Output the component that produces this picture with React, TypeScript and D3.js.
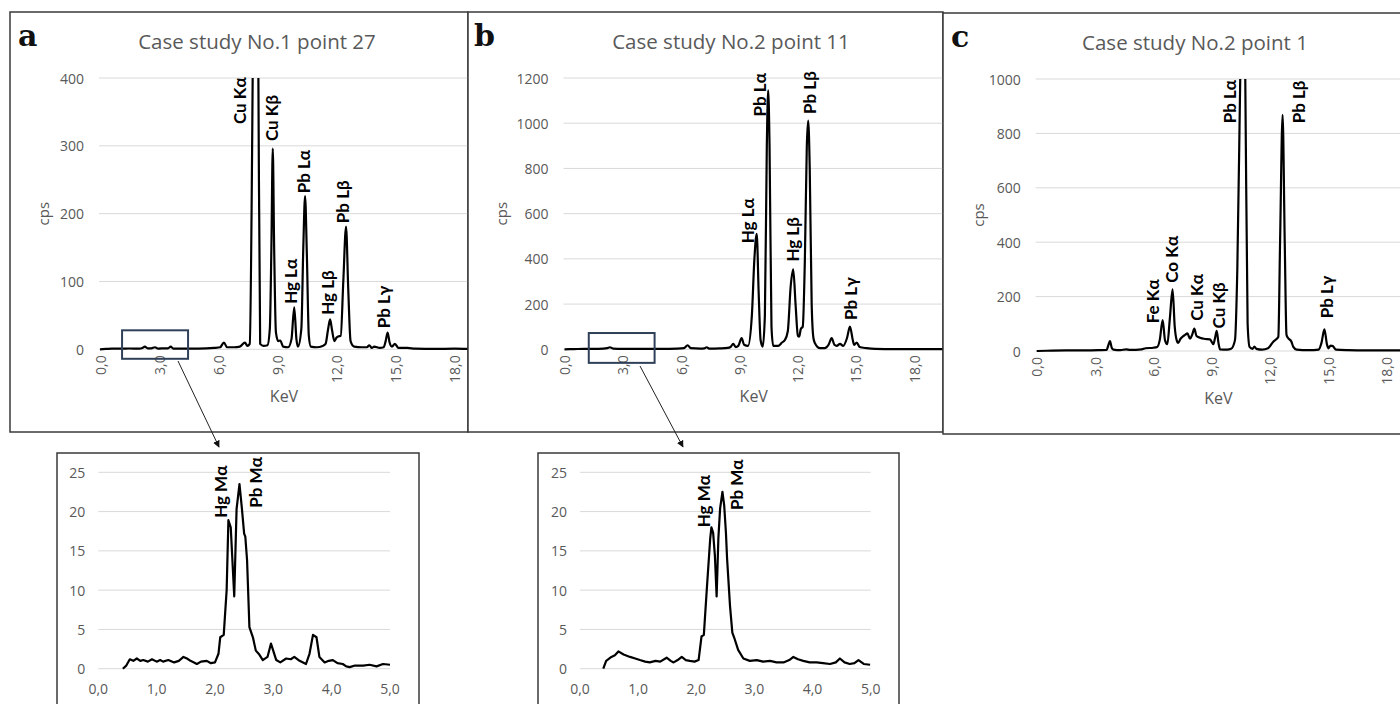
import React from 'react';
import * as d3 from 'd3';

type Pt = [number, number];

// spectra: [keV, cps]
const spectrumA: Pt[] = [
  [0, 0], [0.3, 0.5], [0.6, 1], [1.0, 1], [1.5, 1.2], [2.0, 1], [2.15, 2], [2.28, 4], [2.42, 1.5],
  [2.6, 1.5], [2.79, 3], [2.95, 1], [3.3, 1.5], [3.45, 1.5], [3.59, 4], [3.72, 1], [4.2, 1], [5.0, 1],
  [5.8, 2], [6.1, 3], [6.29, 10], [6.45, 3], [6.8, 3], [7.1, 4], [7.36, 10], [7.48, 5], [7.6, 8],
  [7.75, 400], [7.9, 1100], [8.04, 400], [8.13, 8], [8.3, 5], [8.5, 6], [8.62, 30], [8.7, 150],
  [8.77, 296], [8.84, 150], [8.93, 25], [9.05, 12], [9.15, 13], [9.3, 4], [9.55, 3], [9.72, 15],
  [9.86, 62], [9.97, 15], [10.05, 4], [10.22, 30], [10.32, 150], [10.41, 226], [10.5, 140],
  [10.6, 20], [10.7, 4], [11.0, 3], [11.3, 5], [11.45, 8], [11.58, 30], [11.68, 44], [11.78, 28],
  [11.9, 12], [12.0, 17], [12.1, 19], [12.22, 20], [12.35, 100], [12.49, 181], [12.6, 90],
  [12.72, 12], [12.9, 4], [13.3, 3], [13.55, 3], [13.67, 6], [13.8, 2], [13.92, 4], [14.2, 2],
  [14.4, 3], [14.5, 12], [14.6, 24.5], [14.7, 10], [14.82, 4], [14.97, 8], [15.15, 2], [15.6, 2],
  [16.0, 1], [17.0, 0.5], [18.0, 1], [18.7, 0.5],
];

const spectrumB: Pt[] = [
  [0, 0], [0.5, 1], [1.0, 2], [1.5, 2], [2.0, 3], [2.2, 5], [2.34, 9], [2.5, 3], [3.0, 2], [4.0, 2],
  [5.0, 2], [5.8, 3], [6.15, 5], [6.34, 18], [6.5, 5], [7.0, 3], [7.2, 4], [7.32, 9], [7.45, 3],
  [8.0, 4], [8.4, 6], [8.55, 10], [8.69, 24], [8.82, 10], [8.95, 15], [9.12, 49], [9.25, 20],
  [9.45, 15], [9.65, 150], [9.78, 400], [9.9, 511], [10.0, 250], [10.1, 40], [10.21, 12],
  [10.32, 150], [10.42, 900], [10.49, 1145], [10.56, 900], [10.66, 100], [10.75, 15], [11.0, 15],
  [11.2, 30], [11.35, 41], [11.5, 80], [11.65, 280], [11.78, 354], [11.9, 200], [12.02, 60],
  [12.09, 56], [12.17, 90], [12.27, 100], [12.38, 400], [12.48, 900], [12.55, 1012], [12.63, 800],
  [12.73, 200], [12.82, 50], [12.9, 27], [13.16, 5], [13.4, 5], [13.6, 20], [13.76, 49], [13.9, 20],
  [14.02, 15], [14.19, 24], [14.35, 15], [14.55, 50], [14.7, 100], [14.85, 40], [14.92, 20],
  [15.05, 30], [15.2, 10], [15.56, 5], [16.0, 2], [17.0, 1], [18.0, 1], [19.5, 1],
];

const spectrumC: Pt[] = [
  [0, 0], [0.5, 1], [1.5, 2], [2.5, 2], [3.2, 3], [3.6, 4], [3.68, 20], [3.77, 36], [3.86, 12],
  [3.95, 5], [4.3, 3], [4.6, 6], [4.8, 4], [5.4, 6], [5.6, 10], [6.0, 12], [6.2, 15], [6.33, 40],
  [6.48, 114], [6.6, 40], [6.72, 25], [6.85, 120], [6.99, 227], [7.1, 90], [7.2, 40], [7.28, 30],
  [7.4, 45], [7.54, 55], [7.65, 60], [7.75, 65], [7.89, 45], [8.0, 60], [8.11, 82], [8.22, 55],
  [8.4, 49], [8.6, 45], [8.91, 43], [9.09, 25], [9.18, 50], [9.26, 74], [9.35, 30], [9.43, 6],
  [9.8, 5], [10.0, 8], [10.2, 40], [10.32, 300], [10.47, 1000], [10.6, 1600], [10.73, 1000],
  [10.85, 100], [10.95, 15], [11.1, 8], [11.2, 16], [11.3, 8], [11.6, 5], [11.9, 10], [12.17, 34],
  [12.35, 45], [12.43, 52], [12.52, 400], [12.65, 868], [12.76, 400], [12.85, 60], [12.93, 48],
  [13.1, 35], [13.2, 15], [13.37, 5], [14.0, 3], [14.5, 5], [14.65, 30], [14.8, 80], [14.93, 25],
  [15.0, 10], [15.12, 20], [15.23, 18], [15.4, 5], [16.0, 3], [17.0, 2], [18.7, 2],
];

const insetA: Pt[] = [
  [0.42, 0], [0.48, 0.4], [0.54, 1.2], [0.6, 1.0], [0.66, 1.3], [0.72, 1.0], [0.77, 1.1], [0.85, 0.9],
  [0.92, 1.2], [1.0, 0.9], [1.06, 1.1], [1.11, 0.9], [1.2, 1.1], [1.3, 0.8], [1.38, 1.0], [1.46, 1.5],
  [1.52, 1.3], [1.58, 1.0], [1.64, 0.8], [1.69, 0.6], [1.76, 0.9], [1.86, 1.0], [1.93, 0.7],
  [2.0, 0.8], [2.06, 1.9], [2.09, 4.0], [2.15, 4.3], [2.2, 10], [2.23, 18.9], [2.27, 18], [2.33, 9.2],
  [2.37, 20.3], [2.42, 23.5], [2.46, 20.5], [2.5, 17.2], [2.52, 16.8], [2.55, 13.8], [2.59, 5.3],
  [2.65, 4.0], [2.7, 2.3], [2.76, 1.8], [2.82, 1.1], [2.9, 1.5], [2.96, 3.2], [3.05, 1.1], [3.12, 0.8],
  [3.22, 1.3], [3.3, 1.2], [3.36, 1.5], [3.45, 1.0], [3.56, 0.6], [3.62, 1.9], [3.68, 4.3], [3.74, 4.0],
  [3.79, 1.5], [3.88, 0.8], [3.95, 1.0], [4.02, 1.1], [4.1, 0.7], [4.19, 0.6], [4.25, 0.3], [4.31, 0.2],
  [4.4, 0.4], [4.54, 0.4], [4.65, 0.5], [4.77, 0.3], [4.88, 0.6], [5.0, 0.5],
];

const insetB: Pt[] = [
  [0.4, 0], [0.45, 1.0], [0.54, 1.5], [0.6, 1.7], [0.66, 2.2], [0.75, 1.8], [0.86, 1.5], [0.95, 1.3],
  [1.03, 1.1], [1.12, 0.9], [1.2, 0.8], [1.3, 1.0], [1.38, 0.9], [1.49, 1.4], [1.56, 1.0], [1.61, 0.8],
  [1.68, 1.1], [1.75, 1.5], [1.82, 1.1], [1.89, 1.0], [1.97, 0.9], [2.04, 1.1], [2.09, 4.1],
  [2.13, 4.3], [2.18, 10], [2.24, 16.6], [2.26, 18], [2.29, 17.3], [2.32, 14.4], [2.35, 9.2],
  [2.38, 16.6], [2.41, 20.4], [2.45, 22.5], [2.48, 20.8], [2.51, 17.3], [2.53, 14], [2.58, 8],
  [2.62, 4.6], [2.65, 4.0], [2.72, 2.4], [2.81, 1.3], [2.92, 1.0], [3.04, 1.1], [3.15, 0.9],
  [3.27, 1.0], [3.38, 0.8], [3.5, 0.8], [3.6, 1.1], [3.67, 1.5], [3.75, 1.2], [3.84, 1.0], [3.95, 0.8],
  [4.07, 0.8], [4.18, 0.7], [4.3, 0.6], [4.4, 0.8], [4.47, 1.3], [4.55, 0.8], [4.64, 0.6], [4.72, 0.7],
  [4.79, 1.1], [4.88, 0.6], [4.99, 0.5],
];

type PeakLabel = { text: string; kev: number; cps: number };

const labelsA: PeakLabel[] = [
  { text: 'Cu Kα', kev: 7.07, cps: 332 },
  { text: 'Cu Kβ', kev: 8.72, cps: 307 },
  { text: 'Hg Lα', kev: 9.68, cps: 67 },
  { text: 'Pb Lα', kev: 10.32, cps: 230 },
  { text: 'Hg Lβ', kev: 11.54, cps: 51 },
  { text: 'Pb Lβ', kev: 12.32, cps: 186 },
  { text: 'Pb Lγ', kev: 14.38, cps: 31 },
];

const labelsB: PeakLabel[] = [
  { text: 'Hg Lα', kev: 9.41, cps: 469 },
  { text: 'Pb Lα', kev: 10.05, cps: 1030 },
  { text: 'Hg Lβ', kev: 11.73, cps: 388 },
  { text: 'Pb Lβ', kev: 12.63, cps: 1041 },
  { text: 'Pb Lγ', kev: 14.74, cps: 130 },
];

const labelsC: PeakLabel[] = [
  { text: 'Fe Kα', kev: 5.97, cps: 102 },
  { text: 'Co Kα', kev: 6.94, cps: 251 },
  { text: 'Cu Kα', kev: 8.23, cps: 111 },
  { text: 'Cu Kβ', kev: 9.34, cps: 83 },
  { text: 'Pb Lα', kev: 9.91, cps: 837 },
  { text: 'Pb Lβ', kev: 13.46, cps: 837 },
  { text: 'Pb Lγ', kev: 14.92, cps: 120 },
];

const insetLabelsA: PeakLabel[] = [
  { text: 'Hg Mα', kev: 2.09, cps: 19.2 },
  { text: 'Pb Mα', kev: 2.69, cps: 20.5 },
];
const insetLabelsB: PeakLabel[] = [
  { text: 'Hg Mα', kev: 2.13, cps: 18.0 },
  { text: 'Pb Mα', kev: 2.7, cps: 20.2 },
];

const mainXTicks = [0, 3, 6, 9, 12, 15, 18];
const insetXTicks = [0, 1, 2, 3, 4, 5];
const yTicksA = [0, 100, 200, 300, 400];
const yTicksB = [0, 200, 400, 600, 800, 1000, 1200];
const yTicksC = [0, 200, 400, 600, 800, 1000];
const insetYTicks = [0, 5, 10, 15, 20, 25];

const fmt = (v: number) => v.toFixed(1).replace('.', ',');

const GREY = '#595959';
const GRID = '#d9d9d9';
const FONT = '"Open Sans", "Noto Sans", sans-serif';
const LABEL_FONT = 'Lato, "Open Sans", sans-serif';

type PanelProps = {
  id: string;
  letter: string;
  title: string;
  frame: { x: number; y: number; w: number; h: number };
  xRange: [number, number];
  rightEdge: number;
  yRange: [number, number];
  yMax: number;
  yTicks: number[];
  data: Pt[];
  labels: PeakLabel[];
  titleX: number;
  letterX: number;
  cpsX: number;
  box?: { k0: number; k1: number; c0: number; c1: number };
};

const Panel = (p: PanelProps) => {
  const x = d3.scaleLinear().domain([0, 18]).range(p.xRange);
  const y = d3.scaleLinear().domain([0, p.yMax]).range(p.yRange);
  const line = d3.line<Pt>().x(d => x(d[0])).y(d => y(d[1])).curve(d3.curveMonotoneX);
  const top = y(p.yMax);
  const bottom = y(0);
  return (
    <g>
      <rect x={p.frame.x} y={p.frame.y} width={p.frame.w} height={p.frame.h}
        fill="#fff" stroke="#3a3a3a" strokeWidth={1.5} />
      <text x={p.letterX} y={p.frame.y + 34} fontFamily='"DejaVu Serif", serif' fontWeight="bold"
        fontSize={30} fill="#111">{p.letter}</text>
      <text x={p.titleX} y={p.frame.y + 37} textAnchor="middle" fontFamily={FONT} fontSize={20.5} fill={GREY}>
        {p.title}
      </text>
      {p.yTicks.map(t => (
        <g key={t}>
          <line x1={p.xRange[0] - 1} x2={p.rightEdge} y1={y(t)} y2={y(t)} stroke={GRID} strokeWidth={1} />
          <text x={p.xRange[0] - 16} y={y(t)} textAnchor="end" dominantBaseline="central"
            fontFamily={FONT} fontSize={14} fill={GREY}>{t}</text>
        </g>
      ))}
      {mainXTicks.map(t => (
        <text key={t} transform={`translate(${x(t)},${bottom + 6}) rotate(-90)`} textAnchor="end"
          dominantBaseline="central" fontFamily={FONT} fontSize={14} fill={GREY}>{fmt(t)}</text>
      ))}
      <text transform={`translate(${p.cpsX},${(top + bottom) / 2}) rotate(-90)`} textAnchor="middle"
        dominantBaseline="central" fontFamily={FONT} fontSize={15} fill={GREY}>cps</text>
      <text x={(p.xRange[0] + p.rightEdge) / 2} y={bottom + 53} textAnchor="middle"
        fontFamily={FONT} fontSize={16} fill={GREY}>KeV</text>
      <clipPath id={`clip-${p.id}`}>
        <rect x={p.xRange[0] - 2} y={top} width={p.rightEdge - p.xRange[0] + 2} height={bottom - top + 12} />
      </clipPath>
      <path d={line(p.data) || ''} fill="none" stroke="#000" strokeWidth={2.2} strokeLinejoin="round"
        clipPath={`url(#clip-${p.id})`} />
      {p.labels.map(l => (
        <text key={l.text} transform={`translate(${x(l.kev)},${y(l.cps)}) rotate(-90)`} textAnchor="start"
          dominantBaseline="central" fontFamily={LABEL_FONT} fontWeight="bold" fontSize={17} fill="#000">
          {l.text}
        </text>
      ))}
      {p.box && (
        <rect x={x(p.box.k0)} y={y(p.box.c1)} width={x(p.box.k1) - x(p.box.k0)}
          height={y(p.box.c0) - y(p.box.c1)} fill="none" stroke="#2f4058" strokeWidth={2} />
      )}
    </g>
  );
};

type InsetProps = {
  frame: { x: number; y: number; w: number; h: number };
  xRange: [number, number];
  data: Pt[];
  labels: PeakLabel[];
};

const Inset = (p: InsetProps) => {
  const x = d3.scaleLinear().domain([0, 5]).range(p.xRange);
  const y = d3.scaleLinear().domain([0, 25]).range([668.7, 472.3]);
  const line = d3.line<Pt>().x(d => x(d[0])).y(d => y(d[1]));
  return (
    <g>
      <rect x={p.frame.x} y={p.frame.y} width={p.frame.w} height={p.frame.h}
        fill="#fff" stroke="#3a3a3a" strokeWidth={1.5} />
      {insetYTicks.map(t => (
        <g key={t}>
          <line x1={p.xRange[0]} x2={p.xRange[1]} y1={y(t)} y2={y(t)} stroke={GRID} strokeWidth={1} />
          <text x={p.xRange[0] - 13} y={y(t)} textAnchor="end" dominantBaseline="central"
            fontFamily={FONT} fontSize={14} fill={GREY}>{t}</text>
        </g>
      ))}
      {insetXTicks.map(t => (
        <text key={t} x={x(t)} y={y(0) + 20} textAnchor="middle" dominantBaseline="central"
          fontFamily={FONT} fontSize={14} fill={GREY}>{fmt(t)}</text>
      ))}
      <path d={line(p.data) || ''} fill="none" stroke="#000" strokeWidth={2.2} strokeLinejoin="round" />
      {p.labels.map(l => (
        <text key={l.text} transform={`translate(${x(l.kev)},${y(l.cps)}) rotate(-90)`} textAnchor="start"
          dominantBaseline="central" fontFamily={LABEL_FONT} fontWeight="bold" fontSize={17} fill="#000">
          {l.text}
        </text>
      ))}
    </g>
  );
};

const App = () => {
  return (
    <svg width={1400} height={704} style={{ position: 'absolute', left: 0, top: 0, background: '#fff' }}>
      <defs>
        <marker id="arrowhead" viewBox="0 0 10 10" refX={9} refY={5} markerWidth={7} markerHeight={7}
          orient="auto">
          <path d="M0,0 L10,5 L0,10 z" fill="#111" />
        </marker>
      </defs>
      <Panel id="a" letter="a" title="Case study No.1 point 27"
        frame={{ x: 10, y: 12, w: 458, h: 420 }} xRange={[100, 454.6]} rightEdge={468}
        yRange={[349.3, 78]} yMax={400} yTicks={yTicksA} data={spectrumA} labels={labelsA}
        titleX={257} letterX={18} cpsX={43} box={{ k0: 1.12, k1: 4.47, c0: -14, c1: 28 }} />
      <Panel id="b" letter="b" title="Case study No.2 point 11"
        frame={{ x: 468, y: 12, w: 475, h: 420 }} xRange={[564.5, 914]} rightEdge={943}
        yRange={[349.3, 78]} yMax={1200} yTicks={yTicksB} data={spectrumB} labels={labelsB}
        titleX={731} letterX={474} cpsX={501} box={{ k0: 1.25, k1: 4.64, c0: -60, c1: 72 }} />
      <Panel id="c" letter="c" title="Case study No.2 point 1"
        frame={{ x: 943, y: 13, w: 470, h: 421 }} xRange={[1036.7, 1386.6]} rightEdge={1400}
        yRange={[351, 79]} yMax={1000} yTicks={yTicksC} data={spectrumC} labels={labelsC}
        titleX={1195} letterX={951} cpsX={978} />
      <Inset frame={{ x: 57, y: 453, w: 362, h: 270 }} xRange={[98.3, 390]} data={insetA} labels={insetLabelsA} />
      <Inset frame={{ x: 538, y: 453, w: 361, h: 270 }} xRange={[580, 870.7]} data={insetB} labels={insetLabelsB} />
      <line x1={178} y1={361} x2={219} y2={447} stroke="#222" strokeWidth={1} markerEnd="url(#arrowhead)" />
      <line x1={640} y1={366} x2={683} y2={447} stroke="#222" strokeWidth={1} markerEnd="url(#arrowhead)" />
    </svg>
  );
};

export default App;
